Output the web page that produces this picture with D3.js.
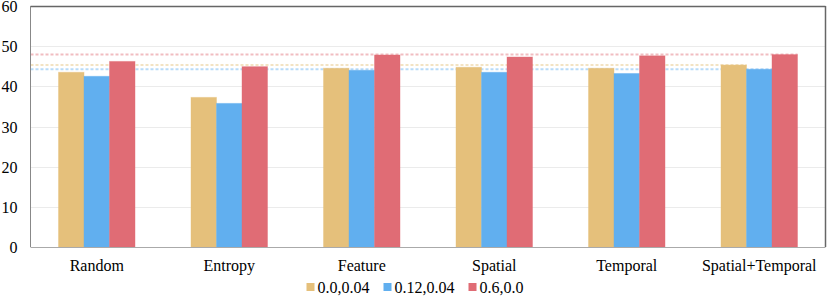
<!DOCTYPE html>
<html>
<head>
<meta charset="utf-8">
<script src="https://cdn.jsdelivr.net/npm/d3@7"></script>
<style>
  body { margin: 0; background: #fff; }
</style>
</head>
<body>
<script>
var categories = ["Random", "Entropy", "Feature", "Spatial", "Temporal", "Spatial+Temporal"];
var series = ["0.0,0.04", "0.12,0.04", "0.6,0.0"];
var values_a = [43.5, 37.25, 44.5, 44.75, 44.5, 45.3];
var values_b = [42.5, 35.75, 44.0, 43.5, 43.2, 44.25];
var values_c = [46.2, 44.9, 47.8, 47.3, 47.6, 47.9];
var y_ticks = [0, 10, 20, 30, 40, 50, 60];
var colors = ["#e5c07b", "#61afef", "#e06c75"];

var all_values = [values_a, values_b, values_c];
var width = 830, height = 298;
var margin = {top: 6, right: 4.5, bottom: 51, left: 30.5};
var plot_w = width - margin.left - margin.right;
var plot_h = height - margin.top - margin.bottom;
var font = "'Liberation Serif', 'Times New Roman', 'DejaVu Serif', serif";

var svg = d3.select("body").append("svg")
    .attr("width", width)
    .attr("height", height)
    .attr("font-family", font);

var plot = svg.append("g")
    .attr("transform", "translate(" + margin.left + "," + margin.top + ")");

var x0 = d3.scaleBand().domain(categories).range([0, plot_w])
    .paddingInner(0.4226).paddingOuter(0.2113);
var x1 = d3.scaleBand().domain(series).range([0, x0.bandwidth()]);
var y = d3.scaleLinear().domain([0, 60]).range([plot_h, 0]);

// grid
plot.append("g").selectAll("line")
  .data(y_ticks.filter(function(d) { return d > 0 && d < 60; }))
  .enter().append("line")
  .attr("x1", 0).attr("x2", plot_w)
  .attr("y1", function(d) { return Math.round(y(d)) + 0.5; })
  .attr("y2", function(d) { return Math.round(y(d)) + 0.5; })
  .attr("stroke", "#ebebeb").attr("stroke-width", 1);

// reference dashed lines at last category values, drawn behind bars
var last = categories.length - 1;
var refs = plot.append("g");
series.forEach(function(s, i) {
  var v = all_values[i][last];
  refs.append("line")
    .attr("x1", 0)
    .attr("x2", x0(categories[last]) + x1(s) + x1.bandwidth())
    .attr("y1", y(v)).attr("y2", y(v))
    .attr("stroke", colors[i])
    .attr("stroke-opacity", 0.45)
    .attr("stroke-width", 2)
    .attr("stroke-dasharray", "3,2");
});

// bars
var groups = plot.append("g").selectAll("g")
  .data(categories)
  .enter().append("g")
  .attr("transform", function(d) { return "translate(" + x0(d) + ",0)"; });

groups.selectAll("rect")
  .data(function(d, ci) { return series.map(function(s, si) { return {s: s, si: si, v: all_values[si][ci]}; }); })
  .enter().append("rect")
  .attr("x", function(d) { return x1(d.s); })
  .attr("y", function(d) { return y(d.v); })
  .attr("width", x1.bandwidth())
  .attr("height", function(d) { return plot_h - y(d.v); })
  .attr("fill", function(d) { return colors[d.si]; })
  .attr("stroke", function(d) { return colors[d.si]; })
  .attr("stroke-opacity", 0.4)
  .attr("stroke-width", 1);

// frame
plot.append("line").attr("x1", 0).attr("x2", plot_w).attr("y1", 0.5).attr("y2", 0.5)
  .attr("stroke", "#666").attr("stroke-width", 1.5);
plot.append("line").attr("x1", plot_w).attr("x2", plot_w).attr("y1", 0).attr("y2", plot_h)
  .attr("stroke", "#666").attr("stroke-width", 1.5);
plot.append("line").attr("x1", 0).attr("x2", 0).attr("y1", 0).attr("y2", plot_h)
  .attr("stroke", "#888").attr("stroke-width", 1);
plot.append("line").attr("x1", 0).attr("x2", plot_w).attr("y1", plot_h + 0.5).attr("y2", plot_h + 0.5)
  .attr("stroke", "#aaa").attr("stroke-width", 1);

// y tick labels
plot.append("g").selectAll("text")
  .data(y_ticks)
  .enter().append("text")
  .attr("x", -13)
  .attr("y", function(d) { return y(d); })
  .attr("dy", "0.38em")
  .attr("text-anchor", "end")
  .attr("font-size", 16)
  .attr("fill", "#000")
  .text(function(d) { return d; });

// x labels
plot.append("g").selectAll("text")
  .data(categories)
  .enter().append("text")
  .attr("x", function(d) { return x0(d) + x0.bandwidth() / 2; })
  .attr("y", plot_h + 24)
  .attr("text-anchor", "middle")
  .attr("font-size", 16)
  .attr("fill", "#000")
  .text(function(d) { return d; });

// legend
var legend = svg.append("g");
var items = legend.selectAll("g").data(series).enter().append("g");
items.append("rect")
  .attr("width", 8).attr("height", 8)
  .attr("y", 283)
  .attr("fill", function(d, i) { return colors[i]; });
items.append("text")
  .attr("x", 11)
  .attr("y", 293)
  .attr("font-size", 16)
  .attr("fill", "#000")
  .text(function(d) { return d; });
var offset = 0;
var gap = 14;
items.each(function() {
  var w = 11 + this.querySelector("text").getComputedTextLength();
  d3.select(this).attr("transform", "translate(" + offset + ",0)");
  offset += w + gap;
});
var total = offset - gap;
legend.attr("transform", "translate(" + (width / 2 - total / 2) + ",0)");
</script>
</body>
</html>
